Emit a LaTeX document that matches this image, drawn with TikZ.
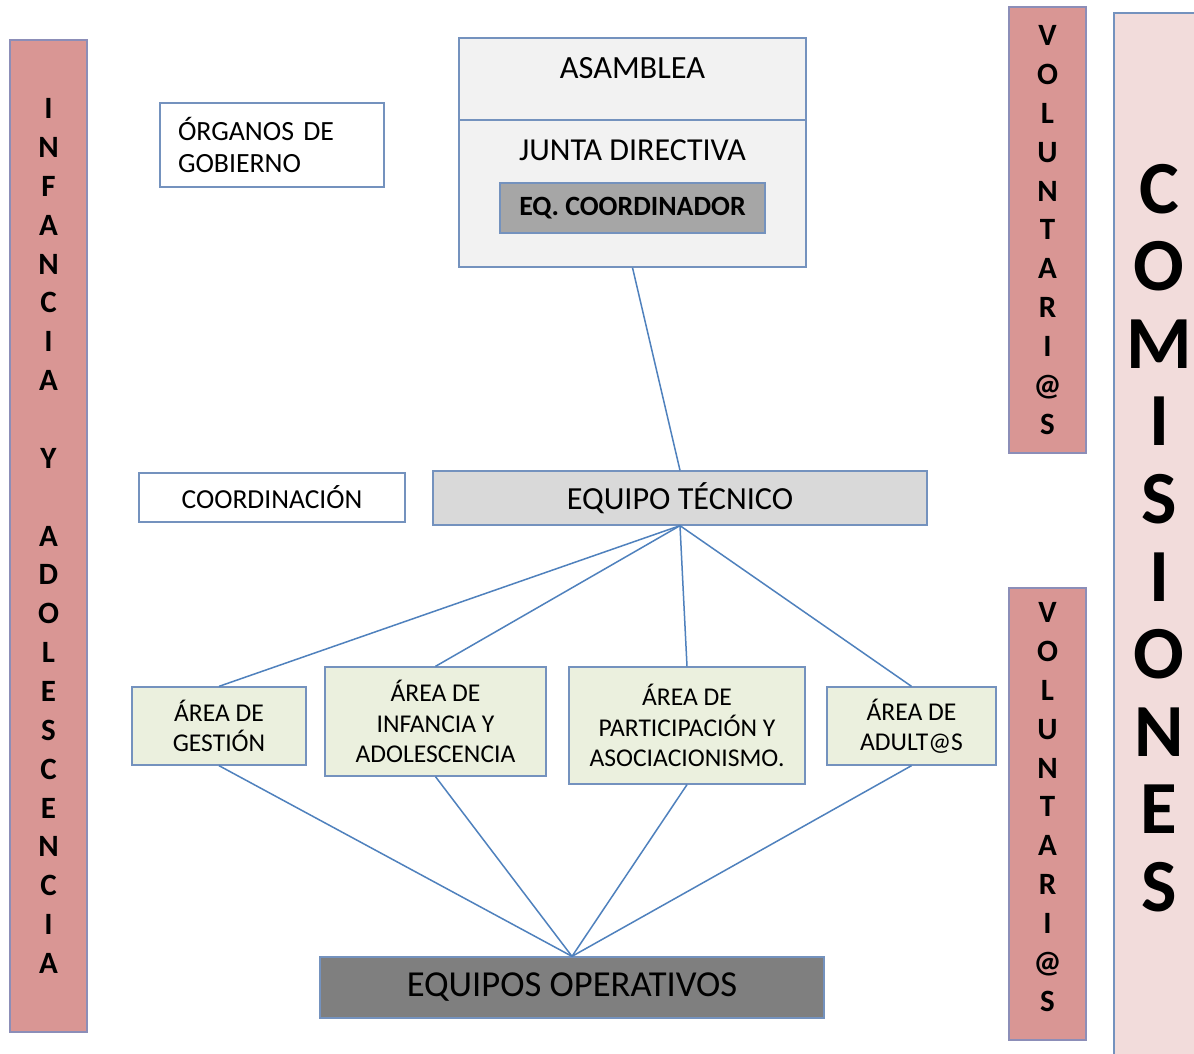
\documentclass[tikz,border=0pt]{standalone}
\usepackage{fontspec}
\setmainfont{Carlito}
\usetikzlibrary{math}

\definecolor{lineblue}{RGB}{79,129,189}
\definecolor{boxblue}{RGB}{116,146,190}
\definecolor{barline}{RGB}{140,142,184}
\definecolor{barpink}{RGB}{217,150,148}
\definecolor{comispink}{RGB}{242,220,219}
\definecolor{areagreen}{RGB}{235,240,222}
\definecolor{lightgrey}{RGB}{242,242,242}
\definecolor{midgrey}{RGB}{217,217,217}
\definecolor{coordgrey}{RGB}{166,166,166}
\definecolor{darkgrey}{RGB}{127,127,127}

\begin{document}
\begin{tikzpicture}[x=1pt,y=-1pt,line width=1.3pt,
  box/.style={draw=boxblue, rectangle, inner sep=0pt, align=center},
  bar/.style={box, draw=barline, fill=barpink,
    font=\bfseries\fontsize{31}{38.86}\selectfont},
  area/.style={box, fill=areagreen, font=\fontsize{25.6}{30.5}\selectfont},
  link/.style={draw=lineblue, line width=1.5pt}]

  \tikzmath{
    \gap  = 38.86; % row step of the letters in the side bars
    \barw = 77;    % width of the side bars
  }

  % page
  \clip (0,0) rectangle (1194,1054);
  \fill[white] (0,0) rectangle (1194,1054);

  % side bars
  \node[bar, minimum width=\barw pt, minimum height=992pt] (infbar) at (48.5,536)
    {I\\N\\F\\A\\N\\C\\I\\A\\[\gap pt]Y\\[\gap pt]A\\D\\O\\L\\E\\S\\C\\E\\N\\C\\I\\A};
  \node[bar, minimum width=\barw pt, minimum height=446pt] (volup) at (1047.5,230)
    {V\\O\\L\\U\\N\\T\\A\\R\\I\\@\\S};
  \node[bar, minimum width=\barw pt, minimum height=452pt] (voldown) at (1047.5,814) {};
  \node[font=\bfseries\fontsize{31}{38.86}\selectfont, align=center, inner sep=0pt]
    (voldowntxt) at (1047.5,807) {V\\O\\L\\U\\N\\T\\A\\R\\I\\@\\S};
  \node[box, fill=comispink, minimum width=90pt, minimum height=1050pt,
    font=\bfseries\fontsize{75}{77.6}\selectfont] (comisiones) at (1159,538)
    {C\\O\\M\\I\\S\\I\\O\\N\\E\\S};

  % organos de gobierno
  \node[box, minimum width=224pt, minimum height=84pt, text width=188pt, align=left,
    font=\fontsize{27.8}{32}\selectfont] (organos) at (272,145) {ÓRGANOS DE\\GOBIERNO};
  \node[box, fill=lightgrey, minimum width=347pt, minimum height=82pt] (asamblea) at (632.5,79) {};
  \node[box, fill=lightgrey, minimum width=347pt, minimum height=147pt] (junta) at (632.5,193.5) {};
  \node[font=\fontsize{32.4}{38}\selectfont] (asambleatxt) at (632.5,68) {ASAMBLEA};
  \node[font=\fontsize{32}{38}\selectfont] (juntatxt) at (632.5,150) {JUNTA DIRECTIVA};
  \node[box, fill=coordgrey, minimum width=265pt, minimum height=50pt,
    font=\bfseries\fontsize{27.9}{32}\selectfont] (coordinador) at (632.5,208) {EQ. COORDINADOR};

  % coordinacion
  \node[box, minimum width=266pt, minimum height=49pt,
    font=\fontsize{27.5}{32}\selectfont] (coordinacion) at (272,497.5) {COORDINACIÓN};
  \node[box, fill=midgrey, minimum width=494pt, minimum height=54pt,
    font=\fontsize{32.2}{38}\selectfont] (tecnico) at (680,498) {EQUIPO TÉCNICO};

  % areas
  \node[area, minimum width=174pt, minimum height=78pt] (gestion) at (219,726)
    {ÁREA DE\\GESTIÓN};
  \node[area, minimum width=221pt, minimum height=109pt] (infancia) at (435.5,721.5)
    {ÁREA DE\\INFANCIA Y\\ADOLESCENCIA};
  \node[area, minimum width=236pt, minimum height=117pt] (particip) at (687,725.5)
    {ÁREA DE\\PARTICIPACIÓN Y\\ASOCIACIONISMO.};
  \node[area, minimum width=169pt, minimum height=78pt] (adultos) at (911.5,726)
    {ÁREA DE\\ADULT@S};

  % equipos operativos
  \node[box, fill=darkgrey, minimum width=504pt, minimum height=61pt,
    font=\fontsize{36.6}{40}\selectfont] (operativos) at (572,987.5) {EQUIPOS OPERATIVOS};

  % links
  \draw[link] (junta.south) -- (tecnico.north);
  \foreach \a in {gestion,infancia,particip,adultos} {
    \draw[link] (tecnico.south) -- (\a.north);
    \draw[link] (\a.south) -- (operativos.north);
  }

\end{tikzpicture}
\end{document}
